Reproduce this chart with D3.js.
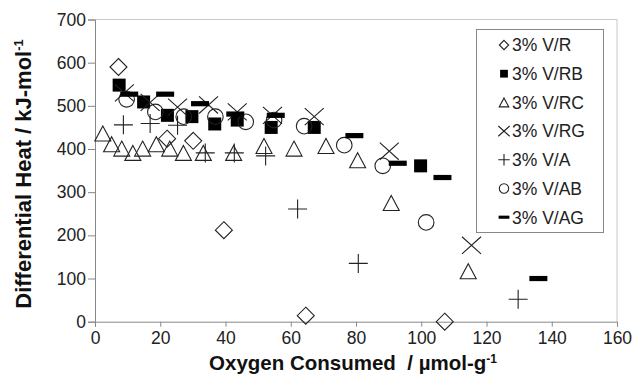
<!DOCTYPE html>
<html><head><meta charset="utf-8">
<script src="https://cdn.jsdelivr.net/npm/d3@7"></script>
<style>
body{margin:0;background:#fff;}
svg{display:block;font-family:"Liberation Sans",Arial,Helvetica,sans-serif;}
</style></head>
<body><svg id="c" width="637" height="391"></svg>
<script>
const seriesNames = ["3% V/R","3% V/RB","3% V/RC","3% V/RG","3% V/A","3% V/AB","3% V/AG"];
const VR  = [[7.2,590],[22.1,424],[30.1,419],[39.5,212],[64.6,14],[107.2,0]];
const VRB = [[7.4,548],[14.9,509],[22.2,478],[29.7,475],[36.7,458],[43.6,467],[54.0,450],[67.2,450],[99.8,361]];
const VRC = [[2.4,436],[5.1,411],[8.2,401],[11.6,391],[14.6,401],[18.8,411],[22.9,401],[27.1,391],[33.2,391],[42.5,391],[51.8,407],[61.0,401],[70.8,407],[80.5,374],[90.8,275],[114.4,117]];
const VRG = [[9.0,530],[16.9,508],[25.3,497],[34.8,502],[43.6,486],[54.4,478],[67.2,475],[90.2,395],[115.4,177]];
const VA  = [[8.7,456],[16.9,459],[25.3,455],[33.8,391],[42.7,391],[52.3,384],[62.1,261],[80.7,135],[129.7,52]];
const VAB = [[9.7,515],[18.5,486],[27.2,475],[36.9,475],[46.2,463],[54.9,467],[64.1,453],[76.4,409],[88.2,361],[101.5,230]];
const VAG = [[10.5,527],[21.5,527],[32.2,505],[43.0,481],[55.4,478],[79.5,431],[92.8,367],[106.5,334],[135.9,100]];
const allSeries = [VR,VRB,VRC,VRG,VA,VAB,VAG];
const symbolKinds = ["diamond","square","triangle","x","plus","circle","dash"];
const xTicks = [0,20,40,60,80,100,120,140,160];
const yTicks = [0,100,200,300,400,500,600,700];

const svg = d3.select("#c");
const L=95, R=617, T=19.5, B=321.7;
const x = d3.scaleLinear().domain([0,160]).range([L,R]);
const y = d3.scaleLinear().domain([0,700]).range([B,T]);
const ink="#222", axc="#888";

svg.append("path").attr("d",`M${L},${T}H${R}V${B}`).attr("fill","none").attr("stroke","#c8c8c8").attr("stroke-width",1);

const gx = svg.append("g").attr("transform",`translate(0,${B})`)
  .call(d3.axisBottom(x).tickValues(xTicks).tickSize(5).tickPadding(5).tickFormat(d3.format("d")));
const gy = svg.append("g").attr("transform",`translate(${L},0)`)
  .call(d3.axisLeft(y).tickValues(yTicks).tickSize(7).tickPadding(2).tickFormat(d3.format("d")));
[gx,gy].forEach(g=>{
  g.selectAll("path,line").attr("stroke",axc);
  g.selectAll("text").attr("fill",ink).style("font-size","17.5px").style("font-family","inherit");
});
gx.selectAll(".tick line").attr("y1",0);

function sym(kind, s){
  const p = d3.path();
  if(kind==="diamond"){const r=8.5*s;p.moveTo(0,-r);p.lineTo(r,0);p.lineTo(0,r);p.lineTo(-r,0);p.closePath();}
  else if(kind==="square"){const r=6.5*s;p.rect(-r,-r,2*r,2*r);}
  else if(kind==="triangle"){const w=8*s,h=7.5*s;p.moveTo(0,-h);p.lineTo(w,h);p.lineTo(-w,h);p.closePath();}
  else if(kind==="x"){const r=9.5*s;p.moveTo(-r,-r*0.9);p.lineTo(r,r*0.9);p.moveTo(r,-r*0.9);p.lineTo(-r,r*0.9);}
  else if(kind==="plus"){const r=9.5*s;p.moveTo(-r,0);p.lineTo(r,0);p.moveTo(0,-r);p.lineTo(0,r);}
  else if(kind==="circle"){const r=7.8*s;p.moveTo(r,0);p.arc(0,0,r,0,2*Math.PI);}
  else if(kind==="dash"){const w=9*s,h=2.6*s;p.rect(-w,-h,2*w,2*h);}
  return p.toString();
}
function styleSym(sel, kind){
  const filled = kind==="square"||kind==="dash";
  sel.attr("fill", filled?"#000":"none").attr("stroke", filled?"none":ink).attr("stroke-width",1.1);
}

allSeries.forEach((data,i)=>{
  const kind = symbolKinds[i];
  svg.append("g").selectAll("path").data(data).join("path")
    .attr("transform",d=>`translate(${x(d[0])},${y(d[1])})`)
    .attr("d",sym(kind,1))
    .call(styleSym, kind);
});

const lg = svg.append("g");
lg.append("rect").attr("x",476.5).attr("y",29.5).attr("width",127).attr("height",203)
  .attr("fill","#fff").attr("stroke","#888").attr("stroke-width",1);
seriesNames.forEach((n,i)=>{
  const cy = 45 + i*28.7;
  const kind = symbolKinds[i];
  lg.append("path").attr("transform",`translate(504,${cy})`).attr("d",sym(kind, kind==="diamond"?0.55:0.6)).call(styleSym,kind);
  lg.append("text").attr("x",512).attr("y",cy).attr("dy","0.36em").attr("fill",ink).style("font-size","17.5px").text(n);
});

const xt = svg.append("text").attr("x",353).attr("y",370).attr("text-anchor","middle")
  .attr("fill","#111").style("font-size","20.5px").style("font-weight","bold");
xt.append("tspan").text("Oxygen Consumed\u00a0 / \u00b5mol-g");
xt.append("tspan").attr("dy",-7).style("font-size","12px").text("-1");
const yt = svg.append("text").attr("transform","translate(31,174) rotate(-90)").attr("text-anchor","middle")
  .attr("fill","#111").style("font-size","22px").style("font-weight","bold");
yt.append("tspan").text("Differential Heat / kJ-mol");
yt.append("tspan").attr("dy",-8).style("font-size","13px").text("-1");
</script></body></html>
